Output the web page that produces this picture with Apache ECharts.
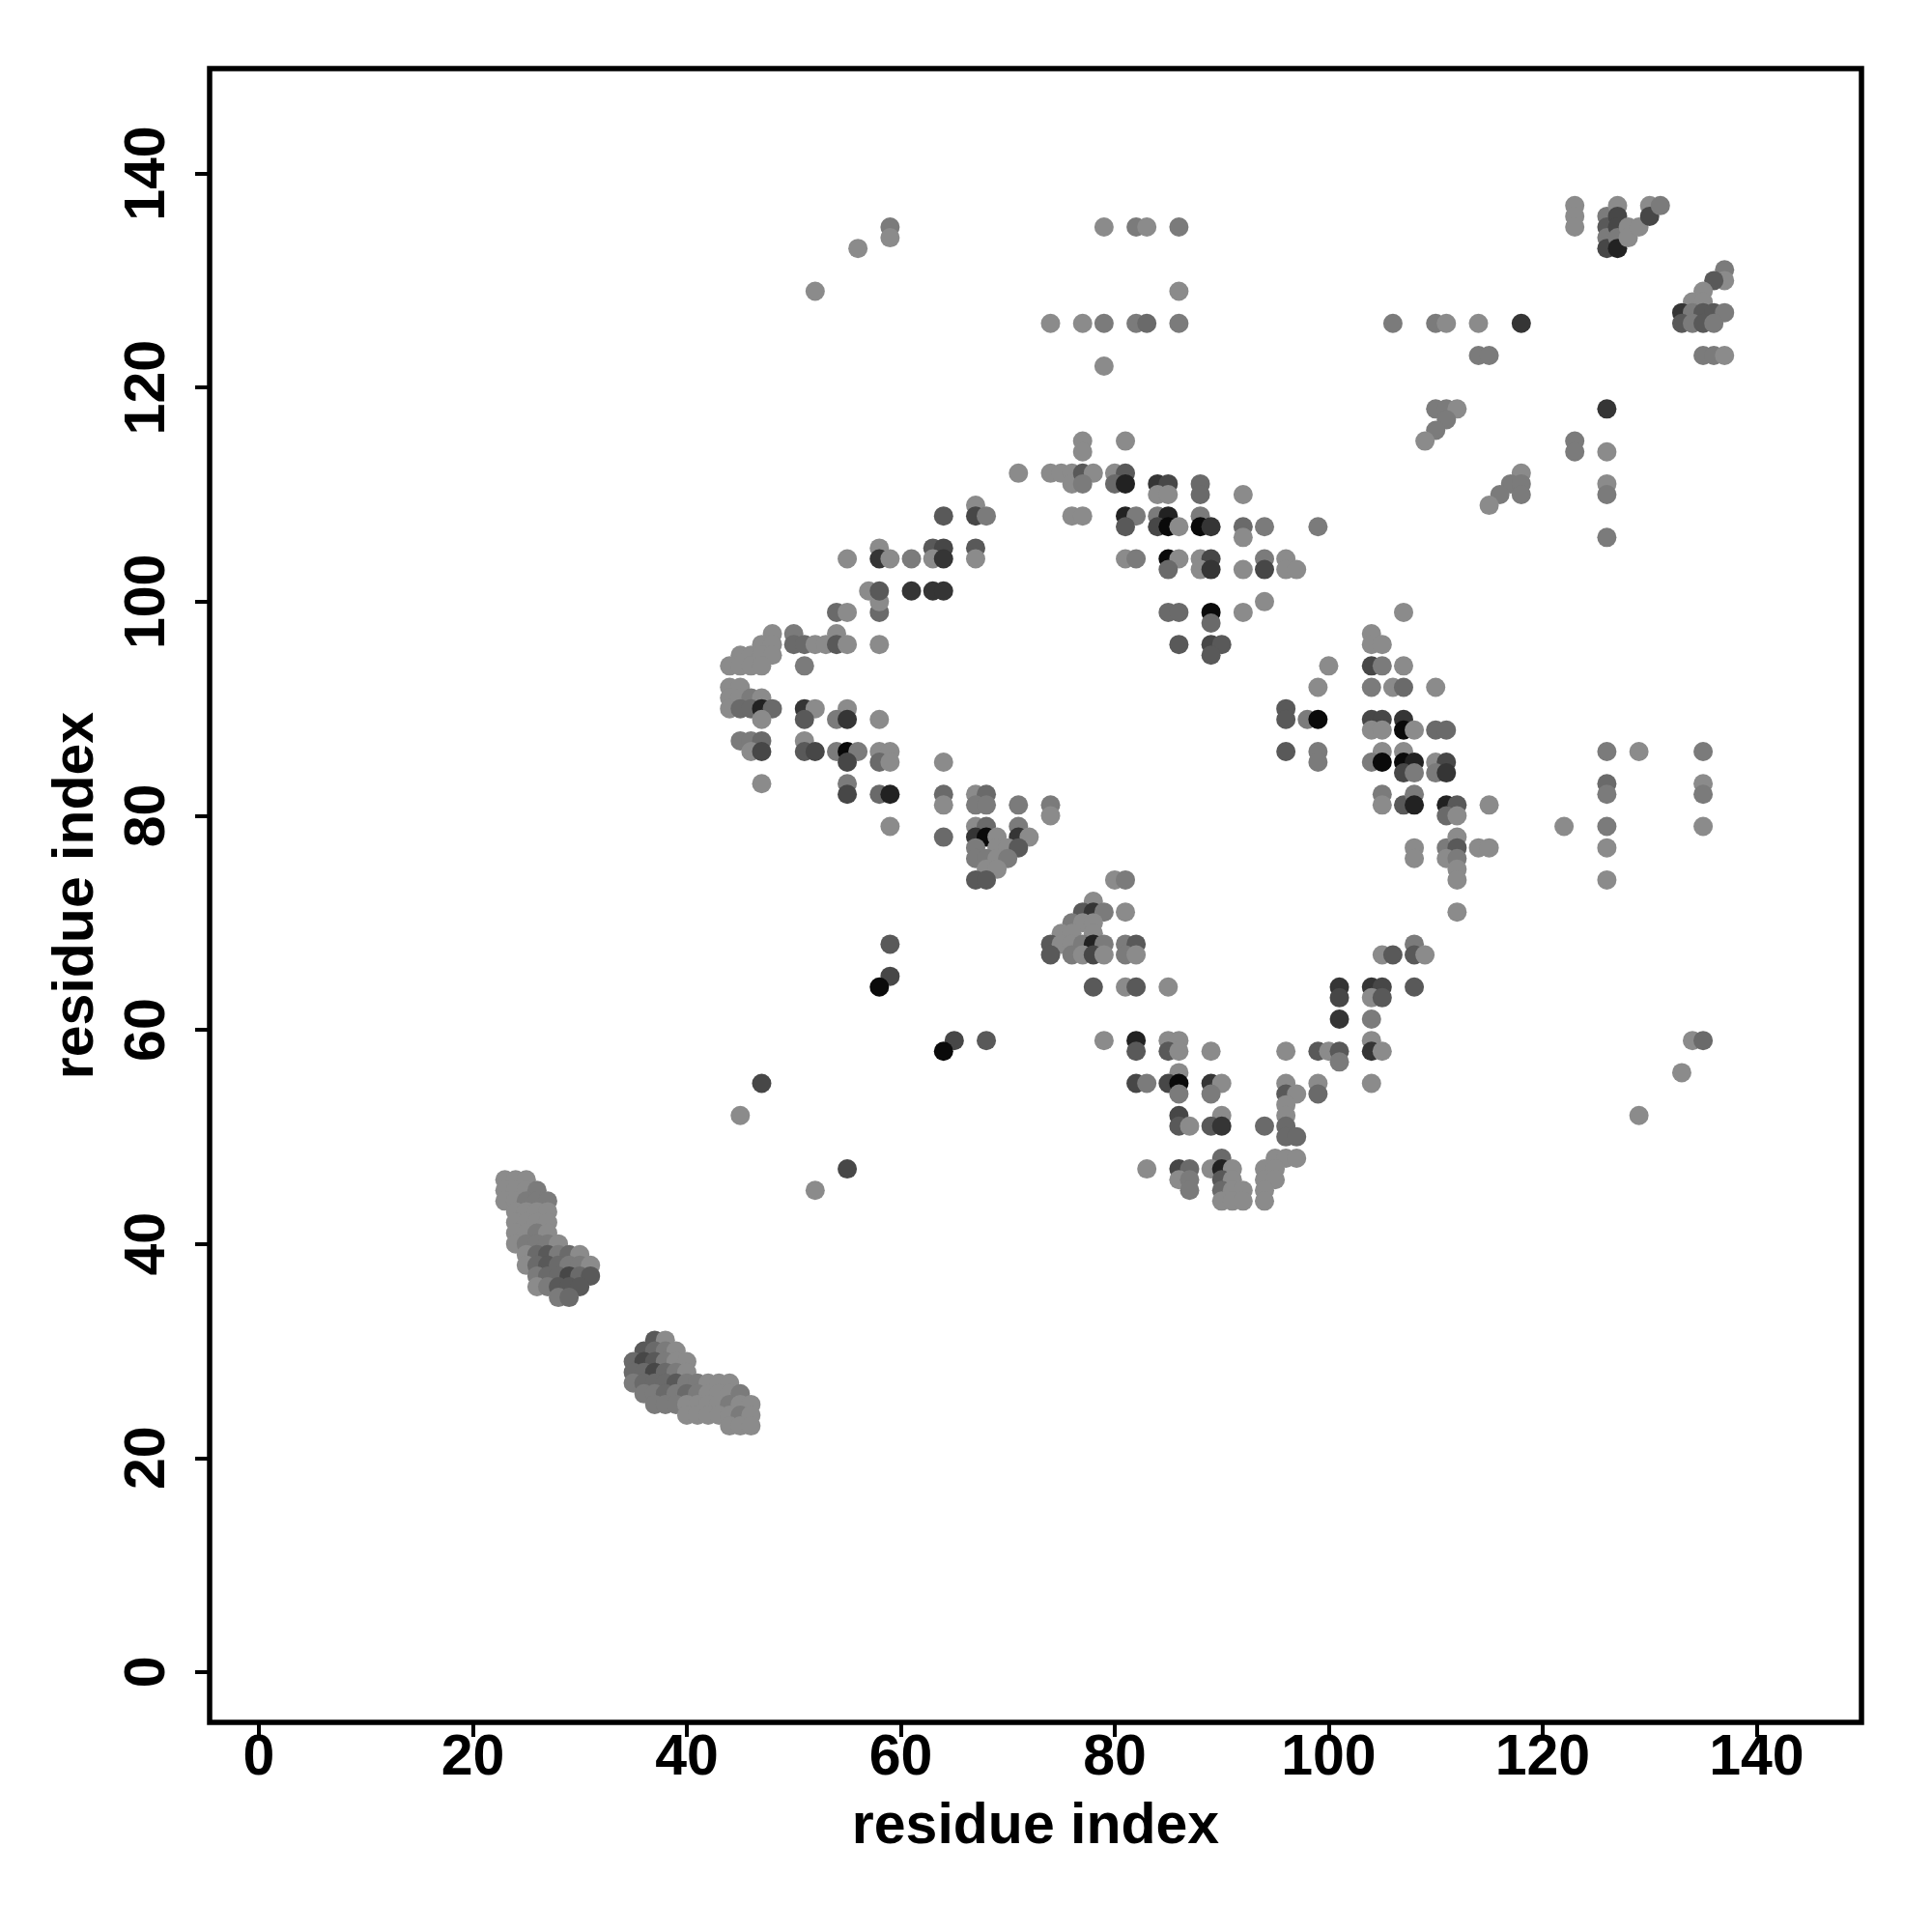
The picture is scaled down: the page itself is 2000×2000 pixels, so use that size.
<!DOCTYPE html>
<html>
<head>
<meta charset="utf-8">
<script src="https://cdn.jsdelivr.net/npm/echarts@6/dist/echarts.min.js"></script>
<style>html,body{margin:0;padding:0;background:#fff;}#chart{width:2000px;height:2000px;}</style>
</head>
<body>
<div id="chart"></div>
<script>
// Each contact: [residue i, residue j, shade level 1 (light) .. 8 (black)]
const hairpinA = [
[23,46,1],[24,46,1],[25,46,1],
[23,45,1],[24,45,1],[25,45,1],[26,45,2],
[23,44,1],[24,44,1],[25,44,2],[26,44,2],[27,44,2],
[24,43,1],[25,43,1],[26,43,1],[27,43,1],
[24,42,1],[25,42,1],[26,42,1],[27,42,1],
[24,41,1],[25,41,1],[26,41,2],[27,41,1],
[24,40,1],[25,40,2],[26,40,2],[27,40,2],[28,40,1],
[25,39,1],[26,39,3],[27,39,4],[28,39,2],[29,39,3],[30,39,1],
[25,38,1],[26,38,3],[27,38,4],[28,38,3],[29,38,2],[30,38,2],[31,38,1],
[26,37,2],[27,37,3],[28,37,3],[29,37,5],[30,37,3],[31,37,4],
[26,36,1],[27,36,2],[28,36,4],[29,36,4],[30,36,4],
[28,35,2],[29,35,3]
];
const hairpinB = [
[37,31,4],[38,31,1],
[36,30,4],[37,30,3],[38,30,2],[39,30,1],
[35,29,3],[36,29,5],[37,29,4],[38,29,2],[39,29,1],[40,29,1],
[35,28,3],[36,28,3],[37,28,5],[38,28,3],[39,28,2],[40,28,1],
[35,27,2],[36,27,3],[37,27,3],[38,27,3],[39,27,4],[40,27,2],[41,27,2],[42,27,1],[43,27,1],[44,27,1],
[36,26,2],[37,26,2],[38,26,3],[39,26,2],[40,26,3],[41,26,2],[42,26,1],[43,26,1],[44,26,1],[45,26,2],
[37,25,2],[38,25,2],[39,25,2],[40,25,1],[41,25,1],[42,25,1],[43,25,1],[44,25,2],[45,25,1],[46,25,1],
[40,24,1],[41,24,1],[42,24,1],[43,24,1],[44,24,1],[45,24,2],[46,24,1],
[44,23,1],[45,23,1],[46,23,1]
];
const sheetLeft = [
[54,99,3],[55,99,1],[58,99,3],[58,100,1],
[48,97,1],[50,97,2],[54,97,1],
[47,96,1],[48,96,1],[50,96,3],[51,96,3],[52,96,1],[53,96,1],[54,96,4],[55,96,1],[58,96,1],
[45,95,1],[46,95,1],[47,95,1],[48,95,1],
[44,94,1],[45,94,1],[46,94,1],[47,94,1],[51,94,2],
[44,92,1],[45,92,1],
[44,91,1],[45,91,1],[46,91,2],[47,91,1],
[44,90,1],[45,90,3],[46,90,3],[47,90,7],[48,90,3],[51,90,6],[52,90,1],[55,90,1],
[47,89,1],[51,89,4],[54,89,2],[55,89,6],[58,89,1],
[45,87,2],[46,87,2],[47,87,3],[51,87,1],
[46,86,1],[47,86,5],[51,86,4],[52,86,5],[54,86,2],[55,86,8],[56,86,2],[58,86,1],[59,86,1],
[55,85,5],[58,85,3],[59,85,1],
[47,83,1],[55,83,2],[55,82,5],[58,82,3],[59,82,7],
[64,85,1],[64,82,3],[64,81,1],[64,78,3],[59,79,1],
[71,112,1],[74,112,1],[75,112,1],[76,112,1],[76,111,1],
[64,108,4],[67,109,1],[67,108,5],[68,108,2],
[58,105,1],[63,105,4],[64,105,5],[67,105,4],
[55,104,1],[58,104,6],[59,104,1],[61,104,2],[63,104,1],[64,104,6],[67,104,1],
[57,101,1],[58,101,4],[61,101,6],[63,101,6],[64,101,6]
];
const sheetMid = [
[67,82,1],[68,82,3],[67,81,2],[68,81,2],[71,81,2],[74,81,2],[74,80,1],
[67,79,1],[68,79,3],[71,79,2],
[67,78,6],[68,78,8],[69,78,1],[71,78,6],[72,78,1],
[67,77,2],[69,77,1],[70,77,1],[71,77,4],
[67,76,2],[68,76,2],[69,76,1],[70,76,2],
[68,75,1],[69,75,1],
[67,74,4],[68,74,4]
];
const sheetTop = [
[77,115,1],[77,114,1],[81,115,1],
[77,112,4],[78,112,1],[80,112,1],[81,112,4],
[77,111,2],[80,111,3],[81,111,7],[84,111,6],[85,111,5],[88,111,3],
[84,110,1],[85,110,1],[88,110,3],[92,110,1],
[76,108,1],[77,108,1],[81,108,7],[82,108,2],[84,108,2],[85,108,7],[88,108,2],
[81,107,4],[84,107,5],[85,107,8],[86,107,1],[88,107,8],[89,107,6],[92,107,3],[94,107,2],[99,107,2],
[92,106,1],
[81,104,1],[82,104,2],[85,104,8],[86,104,1],[88,104,1],[89,104,5],[94,104,2],[96,104,1],
[85,103,3],[88,103,1],[89,103,6],[92,103,1],[94,103,5],[96,103,1],[97,103,1],
[94,100,1],
[85,99,3],[86,99,3],[89,99,8],[92,99,1],
[89,98,3],
[86,96,4],[89,96,5],[90,96,4],
[89,95,4]
];
const sheetBottom = [
[80,74,1],[81,74,2],
[78,72,1],[77,71,4],[78,71,6],[79,71,2],[81,71,1],
[76,70,2],[77,70,1],[78,70,1],[75,69,1],[76,69,1],[78,69,1],
[74,68,4],[75,68,1],[76,68,1],[77,68,2],[78,68,7],[79,68,2],[81,68,2],[82,68,4],
[74,67,4],[76,67,2],[77,67,1],[78,67,5],[79,67,1],[81,67,2],[82,67,1],
[78,64,4],[81,64,1],[82,64,4],[85,64,1],
[79,59,1],[82,59,7],[85,59,1],[86,59,1],
[82,58,4],[85,58,4],[86,58,1],[89,58,1],[96,58,1],[99,58,4],[100,58,1],
[86,56,1],
[82,55,5],[83,55,2],[85,55,5],[86,55,8],[89,55,6],[90,55,1],[96,55,1],[99,55,1],
[86,54,2],[89,54,2],[96,54,4],[97,54,1],[99,54,3],
[96,53,1],[96,52,1],
[86,52,5],[90,52,1],
[86,51,4],[87,51,1],[89,51,4],[90,51,6],[94,51,3],[96,51,3],
[96,50,3],[97,50,3],
[90,48,3],[95,48,1],[96,48,1],[97,48,1],
[83,47,1],[86,47,5],[87,47,3],[89,47,1],[90,47,7],[91,47,1],[94,47,1],[95,47,1],
[86,46,1],[87,46,2],[90,46,4],[91,46,1],[94,46,1],[95,46,1],
[87,45,2],[90,45,3],[91,45,1],[92,45,1],[94,45,1],
[90,44,1],[91,44,1],[92,44,1],[94,44,1]
];
const sheetRight = [
[107,99,1],
[104,97,1],[104,96,1],[105,96,1],
[100,94,1],[104,94,5],[105,94,2],[107,94,1],
[99,92,1],[104,92,2],[106,92,1],[107,92,3],[110,92,1],
[96,90,4],[96,89,4],[98,89,2],[99,89,8],[104,89,5],[105,89,5],[107,89,6],
[104,88,1],[105,88,1],[107,88,8],[108,88,1],[110,88,3],[111,88,3],
[96,86,4],[99,86,2],[105,86,1],[107,86,1],
[99,85,2],[104,85,2],[105,85,8],[107,85,8],[108,85,7],[110,85,1],[111,85,5],
[107,84,5],[108,84,2],[110,84,2],[111,84,6],
[105,82,2],[105,81,1],[107,81,4],[108,82,2],[108,81,7],[111,81,7],[112,81,4],[111,80,3],[112,80,1],[115,81,1],
[122,79,1],
[108,77,1],[108,76,1],[111,77,2],[112,78,1],[112,77,4],[111,76,1],[112,76,2],[114,77,1],[115,77,1],
[112,75,1],[112,74,1],[112,71,1]
];
const sheetLower = [
[105,67,1],[106,67,4],[108,68,2],[108,67,4],[109,67,1],
[101,64,6],[101,63,5],[104,64,6],[105,64,5],[104,63,1],[105,63,4],[108,64,4],
[101,61,6],[104,61,2],
[101,58,4],[101,57,2],[104,59,1],[104,58,6],[105,58,1],
[104,55,1]
];
const cornerTopRight = [
[123,137,1],[123,136,1],[123,135,1],
[126,136,2],[126,135,4],[126,134,2],[126,133,5],[127,137,1],[127,136,5],[127,135,5],[127,134,2],[127,133,7],
[128,135,1],[128,134,1],[129,135,1],[130,137,1],[130,136,5],[131,137,2],
[137,131,2],[137,130,1],[136,130,4],[135,129,1],[134,128,1],[135,128,1],
[133,127,6],[134,127,2],[135,127,4],[136,127,4],[137,127,2],
[133,126,4],[134,126,2],[135,126,4],[136,126,2],
[135,123,2],[136,123,2],[137,123,1],
[106,126,2],[110,126,2],[111,126,1],[114,126,1],[118,126,6],
[114,123,2],[115,123,2],
[110,118,2],[111,118,2],[112,118,1],[111,117,2],[110,116,2],[109,115,1],
[126,118,6],
[123,115,2],[123,114,2],[126,114,1],
[118,112,1],[117,111,2],[118,111,2],[118,110,2],[116,110,2],[115,109,1],
[126,111,1],[126,110,2],[126,106,2]
];
const farRight = [
[126,86,2],[129,86,1],[135,86,2],[126,83,3],[126,82,2],[135,83,1],[135,82,2],
[126,79,2],[135,79,1],[126,77,1],[126,74,1],
[134,59,1],[135,59,3],[133,56,1],[129,52,1]
];
const topStrip = [
[59,135,2],[59,134,1],[56,133,1],[52,129,1],[79,135,1],[82,135,2],[83,135,1],[86,135,2],[86,129,1],
[74,126,1],[77,126,1],[79,126,2],[82,126,2],[83,126,3],[86,126,2],[79,122,1]
];
const isolated = [
[59,68,4],[59,65,5],[58,64,8],[65,59,5],[64,58,8],[68,59,4],[47,55,5],[45,52,1],[55,47,5],[52,45,1]
];
const xTicks = [0,20,40,60,80,100,120,140];
const yTicks = [0,20,40,60,80,100,120,140];
const xTitle = 'residue index';
const yTitle = 'residue index';

const shades = {1:'#8b8b8b',2:'#7b7b7b',3:'#6a6a6a',4:'#595959',5:'#474747',6:'#353535',7:'#222222',8:'#0a0a0a'};
const allContacts = [].concat(hairpinA, hairpinB, sheetLeft, sheetMid, sheetTop, sheetBottom,
  sheetRight, sheetLower, cornerTopRight, farRight, topStrip, isolated);

const font = 'Liberation Sans';
const chart = echarts.init(document.getElementById('chart'), null, {renderer:'canvas'});
chart.setOption({
  animation: false,
  backgroundColor: '#ffffff',
  grid: {left: 217, right: 73, top: 71, bottom: 217, show: true, borderColor: '#000', borderWidth: 5.5, backgroundColor: 'transparent'},
  xAxis: {
    type: 'value', min: -4.6, max: 149.8,
    name: xTitle, nameLocation: 'middle', nameGap: 79,
    nameTextStyle: {fontFamily: font, fontWeight: 'bold', fontSize: 59, color: '#000'},
    axisLine: {show: false, onZero: false},
    splitLine: {show: false},
    axisTick: {show: true, inside: false, length: 15, lineStyle: {color: '#000', width: 4}, customValues: xTicks},
    axisLabel: {show: true, margin: 8, fontFamily: font, fontWeight: 'bold', fontSize: 59, color: '#000', customValues: xTicks}
  },
  yAxis: {
    type: 'value', min: -4.7, max: 149.8,
    name: yTitle, nameLocation: 'middle', nameGap: 108, nameRotate: 90,
    nameTextStyle: {fontFamily: font, fontWeight: 'bold', fontSize: 59, color: '#000'},
    axisLine: {show: false, onZero: false},
    splitLine: {show: false},
    axisTick: {show: true, inside: false, length: 15, lineStyle: {color: '#000', width: 4}, customValues: yTicks},
    axisLabel: {show: true, rotate: 90, margin: 34, fontFamily: font, fontWeight: 'bold', fontSize: 59, color: '#000', customValues: yTicks}
  },
  series: [{
    type: 'scatter',
    silent: true,
    symbol: 'circle',
    symbolSize: 20,
    data: allContacts,
    itemStyle: {opacity: 1, color: function(p){ return shades[p.value[2]]; }}
  }]
});
</script>
</body>
</html>
